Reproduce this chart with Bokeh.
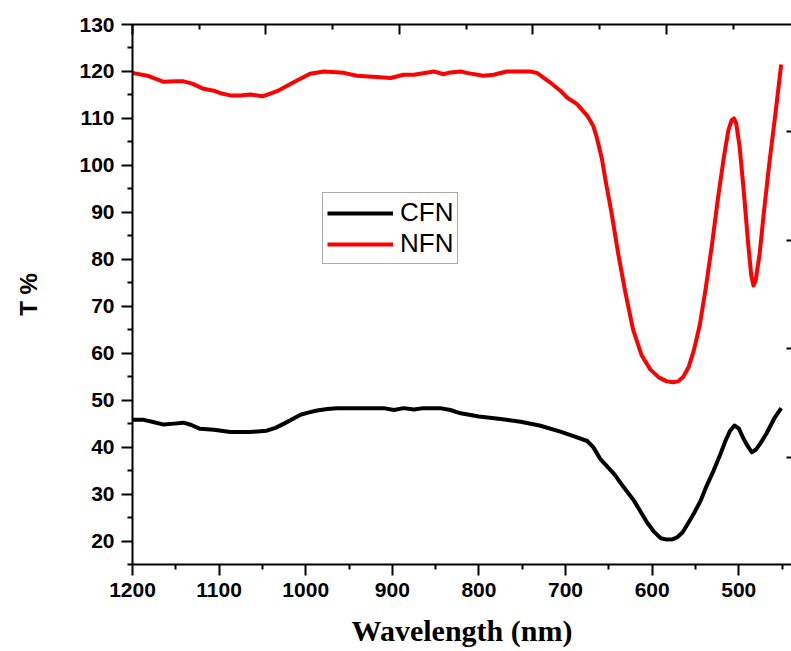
from bokeh.plotting import figure
from bokeh.models import Range1d, LinearAxis, FixedTicker, Legend, LegendItem
from bokeh.embed import file_html
from bokeh.resources import INLINE

# ---- data ----
cfn_nm = [1200, 1187, 1175, 1164, 1152, 1141, 1132, 1122, 1106, 1087, 1064, 1045, 1035, 1025,
          1015, 1006, 996, 987, 975, 964, 933, 910, 898, 887, 875, 864, 845, 833, 821, 800,
          775, 752, 730, 706, 690, 675, 668, 660, 644, 633, 621, 606, 598, 590, 583, 576,
          571, 565, 560, 552, 544, 537, 529, 521, 515, 510, 505, 500, 495, 490, 485, 480,
          475, 468, 459, 451]
cfn_t = [45.8, 45.8, 45.3, 44.8, 45.0, 45.2, 44.7, 43.9, 43.7, 43.2, 43.2, 43.5, 44.1, 45.0,
         46.0, 46.9, 47.4, 47.8, 48.1, 48.3, 48.3, 48.3, 47.9, 48.3, 48.0, 48.3, 48.3, 47.9, 47.2, 46.5,
         46.0, 45.4, 44.6, 43.3, 42.3, 41.3, 40.0, 37.5, 34.3, 31.5, 28.6, 24.0, 22.0, 20.6, 20.3, 20.4,
         20.8, 21.8, 23.3, 25.8, 28.6, 31.8, 35.0, 38.6, 41.5, 43.5, 44.6, 44.0, 42.0, 40.3, 38.9, 39.5,
         40.8, 42.9, 46.1, 48.3]

nfn_nm = [1200, 1183, 1164, 1150, 1141, 1131, 1118, 1106, 1097, 1087, 1075, 1064, 1050, 1033,
          1014, 995, 979, 956, 941, 918, 902, 887, 875, 852, 841, 833, 821, 814, 795, 783,
          768, 741, 733, 718, 706, 698, 687, 675, 668, 664, 658, 654, 647, 639, 631, 622, 612,
          602, 592, 583, 576, 570, 564, 558, 552, 545, 538, 531, 524, 517, 512, 508, 505.5,
          503, 499, 494, 489, 485.5, 483, 480.5, 476, 471, 465, 458, 451]
nfn_t = [119.7, 119.1, 117.8, 117.9, 117.9, 117.4, 116.3, 115.9, 115.3, 114.9, 114.9, 115.1, 114.7, 115.8,
         117.7, 119.5, 120.0, 119.7, 119.1, 118.8, 118.6, 119.3, 119.3, 120.0, 119.4, 119.8, 120.0, 119.7, 119.1, 119.3,
         120.0, 120.0, 119.7, 117.7, 115.9, 114.4, 113.1, 110.6, 108.4, 106.0, 101.4, 97, 90, 81, 73, 65, 59.5,
         56.5, 54.8, 54.0, 53.8, 54.0, 55.0, 57.0, 60.5, 66, 74, 83, 93, 102, 107.5, 109.7, 110,
         109, 104, 94, 83, 76.5, 74.4, 75.5, 81, 90, 100, 110.5, 121.5]

x_ticks = [1200, 1100, 1000, 900, 800, 700, 600, 500]
x_minor = [1150, 1050, 950, 850, 750, 650, 550, 450]
y_ticks = [20, 30, 40, 50, 60, 70, 80, 90, 100, 110, 120, 130]
y_minor = [15, 25, 35, 45, 55, 65, 75, 85, 95, 105, 115, 125]
top_major = [1200, 1045.9, 891.8, 737.7, 583.6]
top_minor = [1122.95, 968.85, 814.75, 660.65, 506.55]
right_ticks = [107.2, 83.9, 60.9, 37.7]

FONT = "Liberation Sans"

p = figure(width=791, height=651, output_backend="svg", toolbar_location=None,
           x_range=Range1d(1200, 439.1), y_range=Range1d(15, 130),
           min_border_left=132, min_border_top=24, min_border_right=0, min_border_bottom=87)
p.xgrid.visible = False
p.ygrid.visible = False
p.outline_line_color = None
p.background_fill_color = "white"
p.border_fill_color = "white"

r1 = p.line(cfn_nm, cfn_t, line_color="black", line_width=4, line_join="round")
r2 = p.line(nfn_nm, nfn_t, line_color="#ff0000", line_width=4, line_join="round")

for ax in (p.xaxis[0], p.yaxis[0]):
    ax.axis_line_width = 2
    ax.axis_line_color = "black"
    ax.major_tick_line_width = 2
    ax.minor_tick_line_width = 2
    ax.major_tick_out = 11
    ax.major_tick_in = 0
    ax.minor_tick_out = 5
    ax.minor_tick_in = 0
    ax.major_label_text_font = FONT
    ax.major_label_text_font_style = "bold"
    ax.major_label_text_font_size = "21px"
    ax.major_label_text_color = "black"
    ax.major_label_standoff = 7
    ax.axis_label_text_color = "black"

p.xaxis[0].ticker = FixedTicker(ticks=x_ticks, minor_ticks=x_minor)
p.yaxis[0].ticker = FixedTicker(ticks=y_ticks, minor_ticks=y_minor)

p.xaxis[0].axis_label = "Wavelength (nm)"
p.xaxis[0].axis_label_text_font = "Liberation Serif"
p.xaxis[0].axis_label_text_font_style = "bold"
p.xaxis[0].axis_label_text_font_size = "30px"
p.xaxis[0].axis_label_standoff = 14

p.yaxis[0].axis_label = "T %"
p.yaxis[0].axis_label_text_font = FONT
p.yaxis[0].axis_label_text_font_style = "bold"
p.yaxis[0].axis_label_text_font_size = "24px"
p.yaxis[0].axis_label_standoff = 34

top = LinearAxis(ticker=FixedTicker(ticks=top_major, minor_ticks=top_minor))
top.axis_line_width = 2
top.axis_line_color = "black"
top.major_tick_line_width = 2
top.minor_tick_line_width = 2
top.major_tick_in = 10
top.major_tick_out = 0
top.minor_tick_in = 5
top.minor_tick_out = 0
top.major_label_text_font_size = "0px"
top.major_label_standoff = 0
p.add_layout(top, "above")

right = LinearAxis(ticker=FixedTicker(ticks=right_ticks, minor_ticks=[]))
right.axis_line_color = None
right.major_tick_line_width = 2
right.major_tick_in = 5
right.major_tick_out = 0
right.major_label_text_font_size = "0px"
right.major_label_standoff = 0
p.add_layout(right, "right")

legend = Legend(items=[LegendItem(label="CFN", renderers=[r1]),
                       LegendItem(label="NFN", renderers=[r2])],
                location=(190, 300))
legend.border_line_color = "#555555"
legend.border_line_width = 1
legend.background_fill_alpha = 1
legend.label_text_font = FONT
legend.label_text_font_size = "26px"
legend.label_text_color = "black"
legend.glyph_width = 66
legend.glyph_height = 28
legend.label_height = 28
legend.label_standoff = 7
legend.spacing = 0
legend.padding = 4
legend.margin = 0
p.add_layout(legend, "center")

open("out.html", "w").write(file_html(p, INLINE))
